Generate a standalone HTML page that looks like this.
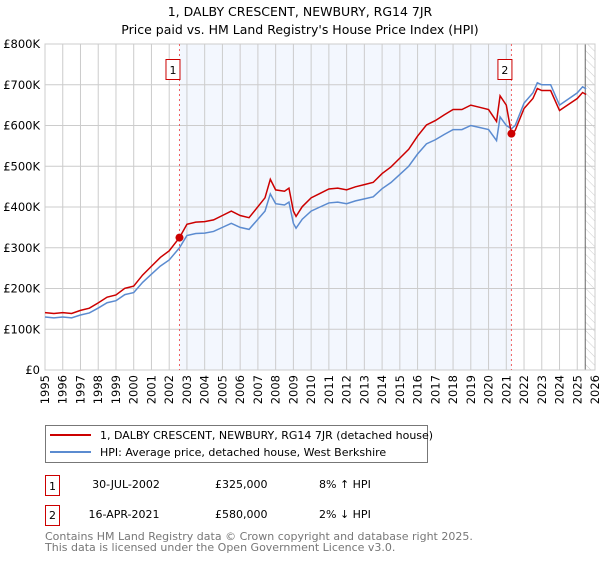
<!DOCTYPE html>
<html><head><meta charset="utf-8"><style>
body{margin:0;background:#fff;font-family:"DejaVu Sans","Liberation Sans",sans-serif;}
svg text{font-family:"DejaVu Sans","Liberation Sans",sans-serif;}
</style></head><body>
<svg id="c" width="600" height="560" xmlns="http://www.w3.org/2000/svg">
<defs><pattern id="hatch" width="6" height="6" patternUnits="userSpaceOnUse" patternTransform="rotate(-45)"><line x1="0" y1="0" x2="0" y2="6" stroke="#ccc" stroke-width="1"/></pattern></defs>
<text x="300" y="16" text-anchor="middle" font-size="12.5" fill="#000">1, DALBY CRESCENT, NEWBURY, RG14 7JR</text>
<text x="300" y="34" text-anchor="middle" font-size="12.5" fill="#000">Price paid vs. HM Land Registry's House Price Index (HPI)</text>
<g id="plot"></g>
<g>
<rect x="45.5" y="425.5" width="382" height="37" fill="#fff" stroke="#777"/>
<line x1="50" y1="435" x2="91" y2="435" stroke="#cc0000" stroke-width="2"/>
<text x="100" y="439" font-size="11">1, DALBY CRESCENT, NEWBURY, RG14 7JR (detached house)</text>
<line x1="50" y1="452" x2="91" y2="452" stroke="#5b8bd0" stroke-width="2"/>
<text x="100" y="456" font-size="11">HPI: Average price, detached house, West Berkshire</text>
</g>
<g font-size="11">
<rect x="45.5" y="475.5" width="14" height="20" fill="#fff" stroke="#cc0000"/><text x="52.5" y="490" text-anchor="middle">1</text>
<text x="126" y="488" text-anchor="middle">30-JUL-2002</text><text x="215" y="488">£325,000</text><text x="319" y="488">8% ↑ HPI</text>
<rect x="45.5" y="505.5" width="14" height="20" fill="#fff" stroke="#cc0000"/><text x="52.5" y="519" text-anchor="middle">2</text>
<text x="124" y="518" text-anchor="middle">16-APR-2021</text><text x="215" y="518">£580,000</text><text x="319" y="518">2% ↓ HPI</text>
</g>
<text x="45" y="540" font-size="11" fill="#777">Contains HM Land Registry data © Crown copyright and database right 2025.</text>
<text x="45" y="551" font-size="11" fill="#777">This data is licensed under the Open Government Licence v3.0.</text>
</svg>
<script>
const hpiYears=[1995,1995.5,1996,1996.5,1997,1997.5,1998,1998.5,1999,1999.5,2000,2000.5,2001,2001.5,2002,2002.58,2003,2003.5,2004,2004.5,2005,2005.5,2006,2006.5,2007,2007.4,2007.7,2008,2008.5,2008.75,2009,2009.15,2009.5,2010,2010.5,2011,2011.5,2012,2012.5,2013,2013.5,2014,2014.5,2015,2015.5,2016,2016.5,2017,2017.5,2018,2018.5,2019,2019.5,2020,2020.45,2020.65,2021,2021.29,2021.5,2022,2022.5,2022.75,2023,2023.5,2024,2024.5,2025,2025.3,2025.5];
const hpiValues=[130,128,130,128,135,140,152,165,170,185,190,215,235,255,270,300,330,335,336,340,350,360,350,345,370,390,432,408,405,412,360,348,370,390,400,410,412,408,415,420,425,445,460,480,500,530,555,565,578,590,590,600,595,590,563,621,600,592,600,655,680,705,700,700,650,665,680,695,690];
const saleYears=[2002.58,2021.29];
const salePrices=[325,580];
const yTicks=[0,100,200,300,400,500,600,700,800];
const yTickLabels=["£0","£100K","£200K","£300K","£400K","£500K","£600K","£700K","£800K"];
const xTicks=[1995,1996,1997,1998,1999,2000,2001,2002,2003,2004,2005,2006,2007,2008,2009,2010,2011,2012,2013,2014,2015,2016,2017,2018,2019,2020,2021,2022,2023,2024,2025,2026];
const NS="http://www.w3.org/2000/svg";
const L=45,R=595,T=44,B=370;
const xs=y=>L+(y-1995)/(2026-1995)*(R-L);
const ys=v=>B-v/800*(B-T);
const g=document.getElementById('plot');
function mk(t,a){const e=document.createElementNS(NS,t);for(const k in a)e.setAttribute(k,a[k]);g.appendChild(e);return e;}
let e;
e=mk('rect',{x:xs(saleYears[0]),y:T,width:xs(saleYears[1])-xs(saleYears[0]),height:B-T,fill:'#eef3fd',opacity:0.7});


e=mk('rect',{x:xs(2025.45),y:T,width:R-xs(2025.45),height:B-T,fill:'url(#hatch)'});


yTicks.forEach((v,i)=>{
 let l=mk('line',{x1:L,x2:R,y1:ys(v),y2:ys(v),stroke:'#ccc','stroke-width':1});
 
 
 let t=mk('text',{x:40,y:ys(v)+4,'text-anchor':'end','font-size':11.5});
 t.textContent=yTickLabels[i];
 
 
});
xTicks.forEach(y=>{
 let l=mk('line',{x1:xs(y),x2:xs(y),y1:T,y2:B,stroke:'#ccc','stroke-width':1});
 
 
 let t=mk('text',{x:0,y:0,'text-anchor':'end','font-size':11.5,transform:`translate(${xs(y)+4},${B+5}) rotate(-90)`});
 t.textContent=y;
 
 
});
e=mk('line',{x1:xs(2025.45),x2:xs(2025.45),y1:T,y2:B,stroke:'#666','stroke-width':1});


e=mk('rect',{x:L,y:T,width:R-L,height:B-T,fill:'none',stroke:'#ccc'});


function hpiAt(y){for(let i=1;i<hpiYears.length;i++){if(y<=hpiYears[i]){const f=(y-hpiYears[i-1])/(hpiYears[i]-hpiYears[i-1]);return hpiValues[i-1]+f*(hpiValues[i]-hpiValues[i-1]);}}return hpiValues[hpiValues.length-1];}
const redVals=hpiYears.map(y=>{const k=y<saleYears[1]?0:1;return salePrices[k]*hpiAt(y)/hpiAt(saleYears[k]);});
e=mk('polyline',{points:hpiYears.map((y,i)=>xs(y)+','+ys(hpiValues[i])).join(' '),fill:'none',stroke:'#5b8bd0','stroke-width':1.5});


e=mk('polyline',{points:hpiYears.map((y,i)=>xs(y)+','+ys(redVals[i])).join(' '),fill:'none',stroke:'#cc0000','stroke-width':1.5});


saleYears.forEach((y,i)=>{
 let l=mk('line',{x1:xs(y),x2:xs(y),y1:T,y2:B,stroke:'#f06060','stroke-width':1,'stroke-dasharray':'2,3'});
 
 
 let b=mk('rect',{x:xs(y)-13.5,y:59.5,width:14,height:20,fill:'#fff',stroke:'#cc0000'});
 
 
 let t=mk('text',{x:xs(y)-6.5,y:74,'text-anchor':'middle','font-size':11});
 t.textContent=String(i+1);
 
 
 let c=mk('circle',{cx:xs(y),cy:ys(salePrices[i]),r:4,fill:'#cc0000'});
 
 
});
</script>
</body></html>
